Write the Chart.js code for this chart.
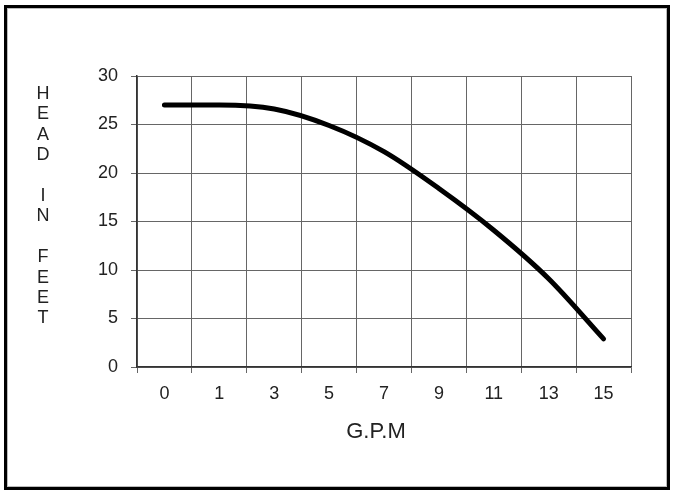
<!DOCTYPE html>
<html>
<head>
<meta charset="utf-8">
<script src="https://cdn.jsdelivr.net/npm/chart.js@4.4.0/dist/chart.umd.min.js"></script>
<style>
  html, body { margin: 0; padding: 0; background: #fff; }
  #wrap { position: relative; width: 679px; height: 497px; }
  #frame {
    position: absolute; left: 4px; top: 5px; width: 666px; height: 485px;
    box-sizing: border-box; border: 3px solid #000;
    box-shadow: inset 0 0 0 1px #bbb; pointer-events: none;
  }
</style>
</head>
<body>
<div id="wrap">
  <canvas id="pump-chart" width="679" height="497"></canvas>
  <div id="frame"></div>
</div>
<script>
// pump curve data
const gpm = ['0', '1', '3', '5', '7', '9', '11', '13', '15'];
const head = [27, 27, 26.6, 24.9, 22.2, 18.4, 14.1, 9.1, 2.9];
const headTicks = [0, 5, 10, 15, 20, 25, 30];
const yTitle = 'HEAD IN FEET';
const xTitle = 'G.P.M';

const FONT = '"Liberation Sans", Arial, sans-serif';

// stacked (unrotated) y title and the x title
const axisTitles = {
    id: 'axisTitles',
    afterDraw(chart) {
        const ctx = chart.ctx;
        ctx.save();
        ctx.fillStyle = '#222';
        ctx.textAlign = 'center';
        ctx.textBaseline = 'middle';
        ctx.font = '18px ' + FONT;
        yTitle.split('').forEach((ch, i) => {
            ctx.fillText(ch, 43, 94 + i * 20.4);
        });
        ctx.font = '22px ' + FONT;
        ctx.fillText(xTitle, 376, 432);
        ctx.restore();
    }
};

new Chart(document.getElementById('pump-chart'), {
    type: 'line',
    data: {
        labels: gpm,
        datasets: [{
            label: 'Head',
            data: head,
            borderColor: '#000',
            borderWidth: 5,
            borderCapStyle: 'round',
            borderJoinStyle: 'round',
            cubicInterpolationMode: 'monotone',
            pointRadius: 0,
            fill: false
        }]
    },
    options: {
        responsive: false,
        animation: false,
        layout: {
            padding: { left: 77, right: 48, top: 76, bottom: 80 }
        },
        plugins: {
            legend: { display: false },
            tooltip: { enabled: false }
        },
        scales: {
            x: {
                offset: true,
                afterFit: (s) => { s.height = 50 },
                grid: { offset: true, color: '#666', tickColor: '#666', tickLength: 6 },
                border: { color: '#333', width: 1.5 },
                ticks: { color: '#222', padding: 10, font: { family: FONT, size: 18 } }
            },
            y: {
                min: 0,
                max: 30,
                afterFit: (s) => { s.width = 60 },
                afterBuildTicks: (s) => { s.ticks = headTicks.map(v => ({ value: v })) },
                grid: { color: '#666', tickColor: '#666', tickLength: 6 },
                border: { color: '#333', width: 1.5 },
                ticks: { color: '#222', padding: 13, font: { family: FONT, size: 18 } }
            }
        }
    },
    plugins: [axisTitles]
});
</script>
</body>
</html>
